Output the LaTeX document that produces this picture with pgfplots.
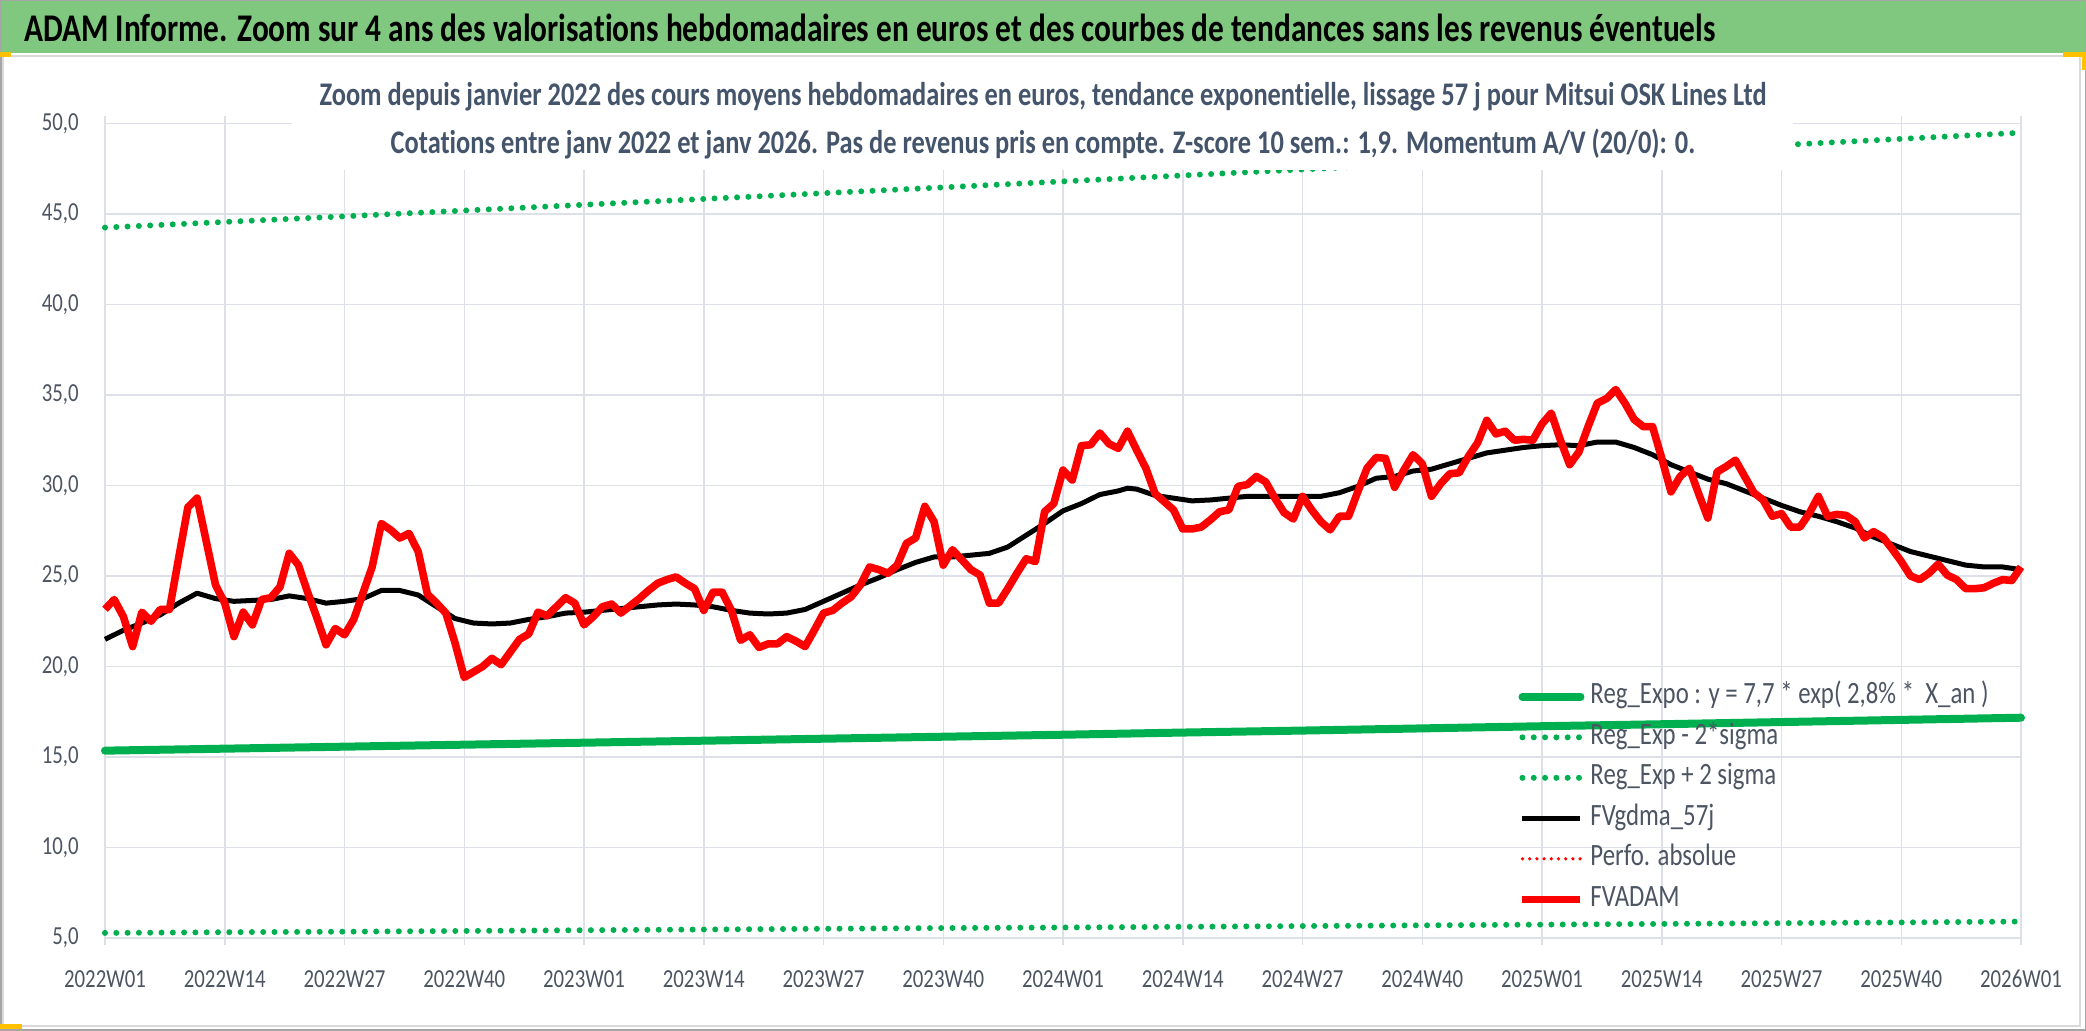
\documentclass[border=0pt]{standalone}
\usepackage{pgfplots}
\pgfplotsset{compat=1.18}
\usepackage{fontspec}
\setmainfont{Carlito}[FakeStretch=0.8,Ligatures={NoCommon}]
\definecolor{gridcol}{HTML}{DDE1E7}
\definecolor{tickcol}{HTML}{4D5563}
\definecolor{titlecol}{HTML}{44546A}
\definecolor{hdrgreen}{HTML}{80C880}
\definecolor{lgreen}{HTML}{00B050}
\definecolor{handle}{HTML}{FFC000}

\pgfplotstableread{
w v
0 23.16
1 23.7
2 22.75
3 21.1
4 23.0
5 22.5
6 23.15
7 23.15
8 26.0
9 28.8
10 29.3
11 26.9
12 24.5
13 23.5
14 21.65
15 23.0
16 22.3
17 23.7
18 23.8
19 24.4
20 26.25
21 25.6
22 24.1
23 22.7
24 21.2
25 22.1
26 21.75
27 22.6
28 24.05
29 25.5
30 27.9
31 27.55
32 27.1
33 27.35
34 26.35
35 24.0
36 23.5
37 22.95
38 21.3
39 19.4
40 19.7
41 20.0
42 20.45
43 20.1
44 20.8
45 21.5
46 21.8
47 23.0
48 22.8
49 23.3
50 23.8
51 23.5
52 22.3
53 22.75
54 23.3
55 23.45
56 22.95
57 23.35
58 23.75
59 24.2
60 24.6
61 24.8
62 24.95
63 24.6
64 24.3
65 23.1
66 24.1
67 24.1
68 23.1
69 21.45
70 21.75
71 21.05
72 21.25
73 21.25
74 21.65
75 21.4
76 21.1
77 22.0
78 22.95
79 23.1
80 23.5
81 23.85
82 24.5
83 25.5
84 25.35
85 25.15
86 25.6
87 26.8
88 27.1
89 28.85
90 28.0
91 25.6
92 26.45
93 25.9
94 25.35
95 25.05
96 23.5
97 23.5
98 24.3
99 25.15
100 25.95
101 25.8
102 28.55
103 29.0
104 30.85
105 30.3
106 32.2
107 32.25
108 32.9
109 32.3
110 32.05
111 33.0
112 31.95
113 30.95
114 29.55
115 29.1
116 28.65
117 27.6
118 27.6
119 27.7
120 28.1
121 28.55
122 28.65
123 29.95
124 30.05
125 30.5
126 30.2
127 29.3
128 28.5
129 28.15
130 29.4
131 28.65
132 28.0
133 27.55
134 28.3
135 28.3
136 29.65
137 30.95
138 31.55
139 31.5
140 29.9
141 30.85
142 31.7
143 31.2
144 29.4
145 30.1
146 30.65
147 30.7
148 31.6
149 32.35
150 33.6
151 32.85
152 33.0
153 32.5
154 32.55
155 32.5
156 33.4
157 34.0
158 32.5
159 31.15
160 31.85
161 33.25
162 34.55
163 34.8
164 35.3
165 34.55
166 33.65
167 33.25
168 33.25
169 31.5
170 29.65
171 30.5
172 30.95
173 29.55
174 28.2
175 30.75
176 31.05
177 31.4
178 30.5
179 29.6
180 29.2
181 28.3
182 28.45
183 27.7
184 27.7
185 28.45
186 29.4
187 28.3
188 28.4
189 28.35
190 28.0
191 27.1
192 27.45
193 27.15
194 26.5
195 25.8
196 25.0
197 24.8
198 25.15
199 25.65
200 25.05
201 24.8
202 24.3
203 24.3
204 24.35
205 24.6
206 24.8
207 24.75
208 25.5
}\fvadam

\pgfplotstableread{
w v
0 21.5
2 22.0
4 22.4
6 22.85
8 23.5
10 24.05
12 23.75
14 23.6
16 23.65
18 23.7
20 23.9
22 23.75
24 23.5
26 23.6
28 23.75
30 24.2
32 24.2
34 23.95
36 23.3
38 22.65
40 22.4
42 22.35
44 22.4
46 22.6
48 22.75
50 22.95
52 23.0
54 23.1
56 23.2
58 23.3
60 23.4
62 23.45
64 23.4
66 23.3
68 23.1
70 22.95
72 22.9
74 22.95
76 23.15
78 23.6
80 24.05
82 24.5
84 24.9
86 25.35
88 25.75
90 26.05
92 26.05
94 26.15
96 26.25
98 26.6
100 27.25
102 27.9
104 28.6
106 29.0
108 29.5
110 29.7
111 29.85
112 29.8
114 29.45
116 29.3
118 29.15
120 29.2
122 29.3
124 29.4
126 29.4
128 29.4
130 29.4
132 29.4
134 29.6
136 29.95
138 30.4
140 30.5
142 30.8
144 30.9
146 31.2
148 31.5
150 31.8
152 31.95
154 32.1
156 32.2
158 32.25
160 32.2
162 32.4
164 32.4
166 32.1
168 31.7
170 31.15
172 30.75
174 30.35
176 30.1
178 29.7
180 29.3
182 28.9
184 28.55
186 28.3
188 28.0
190 27.65
192 27.15
194 26.75
196 26.35
198 26.1
200 25.85
202 25.6
204 25.5
206 25.5
208 25.35
}\fvgdma

\pgfplotstableread{
w reg lo hi
0 15.35 5.28 44.25
13 15.46 5.32 44.56
26 15.57 5.35 44.87
39 15.68 5.39 45.19
52 15.79 5.43 45.51
65 15.90 5.47 45.83
78 16.01 5.51 46.15
91 16.12 5.55 46.47
104 16.23 5.58 46.80
117 16.35 5.62 47.13
130 16.46 5.66 47.46
143 16.58 5.70 47.79
156 16.70 5.74 48.13
169 16.81 5.78 48.47
182 16.93 5.82 48.81
195 17.05 5.86 49.15
208 17.17 5.91 49.49
}\regexp

\begin{document}
\begin{tikzpicture}
% canvas
\path[use as bounding box] (0,0) rectangle (1043pt,515.5pt);
\begin{scope}[x=0.5pt,y=-0.5pt,yshift=515.5pt]
\fill[white] (0,0) rectangle (2086,1031);
\fill[hdrgreen] (0,0) rectangle (2086,53);
\draw[color=gray!70,line width=1.5pt] (0,0) rectangle (2086,1031);
\draw[color=black!15,line width=1pt] (3,56) -- (2080,56) -- (2080,1026) -- (3,1026) -- cycle;
\draw[handle,line width=2.5pt] (0,1027) -- (22,1027);
\draw[handle,line width=2.5pt] (2063,55) -- (2084,55) -- (2084,70);
\draw[handle,line width=2.5pt] (0,55) -- (11,55);
\node[anchor=west,inner sep=0pt,font=\bfseries\fontsize{19.6}{23}\selectfont,text=black] at (24,28) {ADAM Informe. Zoom sur 4 ans des valorisations hebdomadaires en euros et des courbes de tendances sans les revenus éventuels};
\end{scope}

\begin{axis}[
  at={(52.5pt,46.5pt)}, anchor=south west,
  scale only axis, width=958pt, height=407.25pt,
  xmin=0, xmax=208, ymin=5, ymax=50,
  clip=false,
  xtick={0,13,...,208},
  xticklabels={2022W01,2022W14,2022W27,2022W40,2023W01,2023W14,2023W27,2023W40,2024W01,2024W14,2024W27,2024W40,2025W01,2025W14,2025W27,2025W40,2026W01},
  ytick={5,10,...,50},
  grid=major,
  major grid style={draw=gridcol,line width=0.75pt},
  axis line style={draw=none},
  tick align=outside,
  major tick length=3.5pt,
  xtick style={draw=gridcol,line width=0.75pt},
  ytick style={draw=none},
  /pgf/number format/.cd, fixed, fixed zerofill, precision=1, use comma, assume math mode=true,
  /pgfplots/.cd,
  ticklabel style={font=\fontsize{13}{15}\selectfont, text=tickcol},
  xticklabel style={inner sep=0pt, anchor=north, yshift=-12.5pt},
  yticklabel style={inner sep=0pt, anchor=east, xshift=-9.5pt},
  legend cell align=left,
  legend image code/.code={\draw[#1] (0pt,0pt) -- (29pt,0pt);},
  legend style={at={(0.7375,0.315)}, anchor=north west, draw=none, fill=none,
    inner sep=0pt, row sep=5.25pt, column sep=3pt,
    font=\fontsize{15.5}{17}\selectfont, text=tickcol,
    nodes={inner sep=0pt, text height=11pt, text depth=4pt}},
]
\addplot[lgreen, line width=4pt, line cap=round] table[x=w,y=reg] {\regexp};
\addlegendentry{Reg\_Expo : y = 7,7 * exp( 2,8\% *\ \ X\_an )}
\addplot[lgreen, line width=3pt, line cap=round, dash pattern=on 0pt off 5.65pt] table[x=w,y=lo] {\regexp};
\addlegendentry{Reg\_Exp - 2*sigma}
\addplot[lgreen, line width=3pt, line cap=round, dash pattern=on 0pt off 5.65pt] table[x=w,y=hi] {\regexp};
\addlegendentry{Reg\_Exp + 2 sigma}
\addplot[black, line width=2.5pt, line join=round] table[x=w,y=v] {\fvgdma};
\addlegendentry{FVgdma\_57j}
\addlegendimage{red, line width=1.8pt, line cap=round, dash pattern=on 0pt off 3.6pt}
\addlegendentry{Perfo. absolue}
\addplot[red, line width=3.8pt, line join=round] table[x=w,y=v] {\fvadam};
\addlegendentry{FVADAM}
\end{axis}

\begin{scope}[x=0.5pt,y=-0.5pt,yshift=515.5pt]
\fill[white] (292,62) rectangle (1793,170);
\node[font=\bfseries\fontsize{16.5}{19}\selectfont,text=titlecol,inner sep=0pt] at (1043,97) {Zoom depuis janvier 2022 des cours moyens hebdomadaires en euros, tendance exponentielle, lissage 57 j pour Mitsui OSK Lines Ltd};
\node[font=\bfseries\fontsize{16.5}{19}\selectfont,text=titlecol,inner sep=0pt] at (1043,144) {Cotations entre janv 2022 et janv 2026. Pas de revenus pris en compte. Z-score 10 sem.: 1,9. Momentum A/V (20/0): 0.};
\end{scope}
\end{tikzpicture}
\end{document}
